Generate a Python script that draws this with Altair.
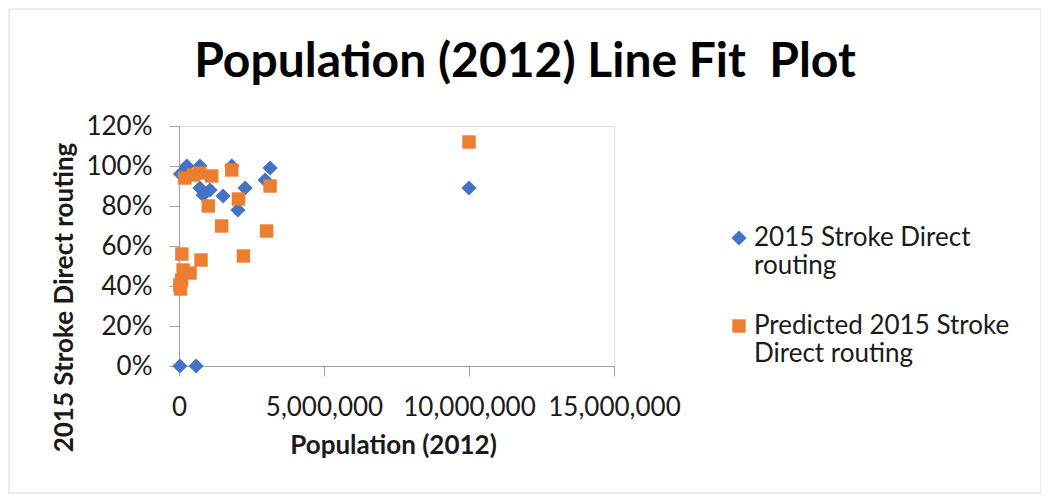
import altair as alt
import pandas as pd

SERIES_ACTUAL = "2015 Stroke Direct routing"
SERIES_PRED = "Predicted 2015 Stroke Direct routing"
TITLE = "Population (2012) Line Fit\u00a0 Plot"

# Population (2012) for observed values, and observed 2015 Stroke Direct routing
actual_pop = [30000, 590000, 270000, 50000, 720000, 1820000, 3140000, 2970000,
              720000, 1070000, 830000, 1520000, 2280000, 2030000, 10000000]
actual_rate = [0.0, 0.0, 1.0, 0.96, 1.0, 1.0, 0.99, 0.93,
               0.89, 0.88, 0.855, 0.85, 0.89, 0.78, 0.89]

# Population (2012) for predicted values, and predicted routing
pred_pop = [200000, 500000, 720000, 1130000, 1820000, 3140000, 2050000, 1010000,
            1470000, 3020000, 100000, 760000, 2220000, 140000, 380000, 90000,
            30000, 50000, 10000000]
pred_rate = [0.94, 0.955, 0.965, 0.95, 0.98, 0.90, 0.835, 0.80,
             0.70, 0.675, 0.56, 0.53, 0.55, 0.48, 0.465, 0.43,
             0.405, 0.385, 1.12]

x_ticks = [0, 5000000, 10000000, 15000000]
y_ticks = [0.0, 0.2, 0.4, 0.6, 0.8, 1.0, 1.2]

df = pd.DataFrame({
    "pop": actual_pop + pred_pop,
    "rate": actual_rate + pred_rate,
    "series": [SERIES_ACTUAL] * len(actual_pop) + [SERIES_PRED] * len(pred_pop),
})

FONT = "Lato"
TEXT = "#1a1a1a"
AXIS = "#9E9E9E"

domain = [SERIES_ACTUAL, SERIES_PRED]

label_expr = (
    "datum.label == '" + SERIES_ACTUAL + "' ? ['2015 Stroke Direct', 'routing'] : "
    "['Predicted 2015 Stroke', 'Direct routing']"
)

legend = alt.Legend(
    title=None, orient="none", legendX=547, legendY=99,
    labelExpr=label_expr, labelFont=FONT, labelFontSize=26,
    labelColor=TEXT, labelLimit=500, labelOffset=2,
    symbolSize=120, rowPadding=34, padding=0,
)

points = alt.Chart(df).mark_point(filled=True, opacity=1, strokeWidth=0).encode(
    x=alt.X(
        "pop:Q",
        scale=alt.Scale(domain=[0, 15000000], nice=False, zero=True),
        axis=alt.Axis(
            values=x_ticks, format=",d", grid=False,
            domainColor=AXIS, tickColor=AXIS, tickSize=10,
            labelFont=FONT, labelFontSize=26, labelColor=TEXT, labelPadding=18,
            labelFlush=False, labelOverlap=False,
            title="Population (2012)", titleFont=FONT, titleFontSize=26,
            titleFontWeight="bold", titleColor=TEXT,
            titleX=214, titleY=79, titleBaseline="middle", titleAlign="center",
        ),
    ),
    y=alt.Y(
        "rate:Q",
        scale=alt.Scale(domain=[0, 1.2], nice=False),
        axis=alt.Axis(
            values=y_ticks, format=".0%", grid=False,
            domainColor=AXIS, tickColor=AXIS, tickSize=10,
            labelFont=FONT, labelFontSize=26, labelColor=TEXT, labelPadding=17,
            labelFlush=False, labelOverlap=False,
            title="2015 Stroke Direct routing", titleFont=FONT, titleFontSize=26,
            titleFontWeight="bold", titleColor=TEXT,
            titleX=-115, titleY=171, titleBaseline="middle", titleAlign="center",
            titleAngle=270,
        ),
    ),
    color=alt.Color(
        "series:N",
        scale=alt.Scale(domain=domain, range=["#4472C4", "#ED7D31"]),
        legend=legend,
    ),
    shape=alt.Shape(
        "series:N",
        scale=alt.Scale(domain=domain, range=["diamond", "square"]),
        legend=legend,
    ),
    size=alt.Size(
        "series:N",
        scale=alt.Scale(domain=domain, range=[230, 180]),
        legend=None,
    ),
)

single = pd.DataFrame({"title": [TITLE]})

frame = alt.Chart(single).mark_rect(
    filled=False, stroke="#D9D9D9", strokeWidth=1, clip=False
).encode(
    x=alt.value(-170), x2=alt.value(862),
    y=alt.value(-117), y2=alt.value(367),
)

title = alt.Chart(single).mark_text(
    font=FONT, fontSize=48, fontWeight="bold", color="#000000",
    align="center", baseline="middle", clip=False,
).encode(
    text="title:N",
    x=alt.value(346),
    y=alt.value(-63),
)

chart = alt.layer(frame, title, points).properties(
    width=435,
    height=240,
    autosize=alt.AutoSizeParams(type="none"),
    padding={"left": 171, "top": 118, "right": 427, "bottom": 129},
).configure_view(stroke=None).configure(background="white")

chart.save("out.html", embed_options={"renderer": "svg", "actions": False})
